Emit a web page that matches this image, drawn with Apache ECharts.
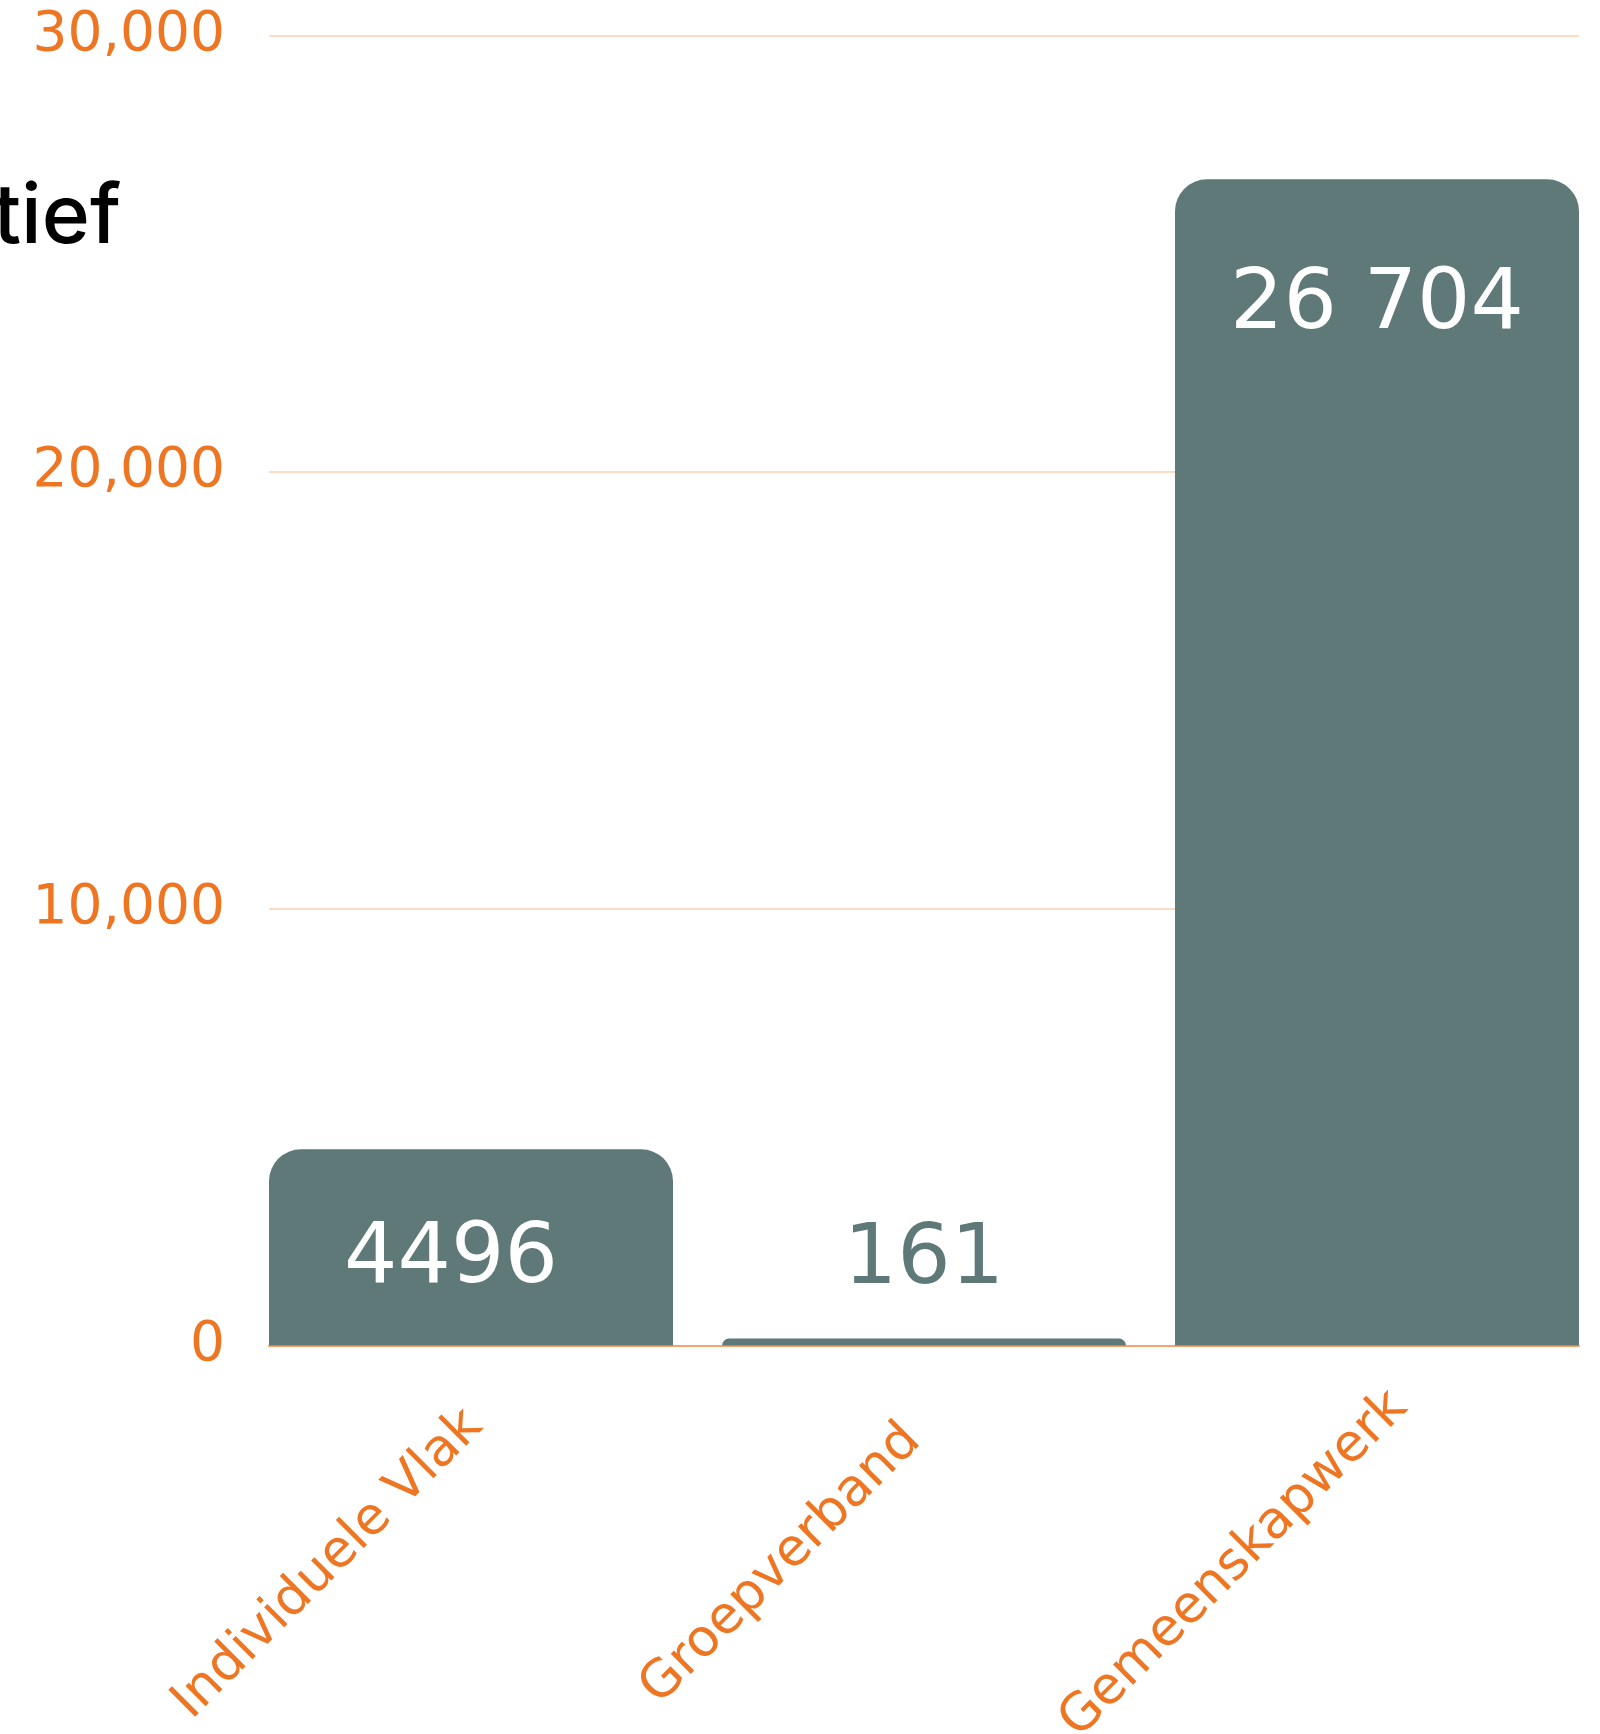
<!DOCTYPE html>
<html>
<head>
<meta charset="utf-8">
<script src="https://cdn.jsdelivr.net/npm/echarts@6/dist/echarts.min.js"></script>
<style>
  html, body { margin: 0; padding: 0; background: #ffffff; }
  #chart { width: 1600px; height: 1734px; }
</style>
</head>
<body>
<div id="chart"></div>
<script>
// ---- data ----
const categories = ['Individuele Vlak', 'Groepverband', 'Gemeenskapwerk'];
const values = [4496, 161, 26704];
const yTicks = [0, 10000, 20000, 30000];
const titleText = 'tief';

// ---- styles ----
const ORANGE = '#ee7623';
const BAR = '#5f7878';
const FONT = '"DejaVu Sans"';
const TITLE_FONT = 'Inter';

function fmtValue(v) {
  if (v >= 10000) {
    return String(v).replace(/\B(?=(\d{3})+(?!\d))/g, ' ');
  }
  return String(v);
}

const yMax = yTicks[yTicks.length - 1];
const yInterval = yTicks[1] - yTicks[0];

const chart = echarts.init(document.getElementById('chart'), null, { renderer: 'canvas' });

const barData = values.map(function (v) {
  const small = v < 1000;
  const tall = v > yMax * 0.5;
  return {
    value: v,
    label: small
      ? { position: 'top', distance: 35, color: BAR }
      : { position: 'insideTop', distance: tall ? 85 : 69, color: '#ffffff', offset: tall ? [0, 0] : [-20, 0] }
  };
});

chart.setOption({
  animation: false,
  backgroundColor: '#ffffff',
  graphic: [{
    type: 'text',
    x: 121,
    y: 218,
    style: {
      text: titleText,
      fill: '#000000',
      font: '500 82px ' + TITLE_FONT,
      textAlign: 'right',
      textVerticalAlign: 'middle'
    }
  }],
  grid: [
    { left: 244.5, width: 1359, top: 35.4, height: 1310.2, containLabel: false, outerBoundsMode: 'none' },
    { left: 269, width: 1310, top: 35.4, height: 1310.2, containLabel: false, outerBoundsMode: 'none' }
  ],
  xAxis: [
    {
      type: 'category',
      gridIndex: 0,
      data: categories,
      axisLine: { show: false },
      axisTick: { show: false },
      axisLabel: {
        interval: 0,
        rotate: 45,
        align: 'center',
        verticalAlign: 'middle',
        margin: 76,
        padding: [0, 404, 0, 0],
        color: ORANGE,
        fontFamily: FONT,
        fontSize: 52
      }
    },
    {
      type: 'category',
      gridIndex: 1,
      data: categories,
      axisLine: { show: true, lineStyle: { color: '#f4a46c', width: 2 } },
      axisTick: { show: false },
      axisLabel: { show: false }
    }
  ],
  yAxis: [
    {
      type: 'value',
      gridIndex: 0,
      min: 0,
      max: yMax,
      interval: yInterval,
      axisLine: { show: false },
      axisTick: { show: false },
      axisLabel: { show: false },
      splitLine: { show: false }
    },
    {
      type: 'value',
      gridIndex: 1,
      min: 0,
      max: yMax,
      interval: yInterval,
      axisLine: { show: false },
      axisTick: { show: false },
      axisLabel: {
        margin: 44,
        color: ORANGE,
        fontFamily: FONT,
        fontSize: 55,
        formatter: function (v) { return v.toLocaleString('en-US'); }
      },
      splitLine: { show: true, lineStyle: { color: '#fcdcc4', width: 2 } }
    }
  ],
  series: [{
    type: 'bar',
    xAxisIndex: 0,
    yAxisIndex: 0,
    data: barData,
    barWidth: 404,
    z: 3,
    itemStyle: { color: BAR, borderRadius: [32, 32, 0, 0] },
    label: {
      show: true,
      fontFamily: FONT,
      fontSize: 84,
      lineHeight: 84,
      formatter: function (p) { return fmtValue(p.value); }
    }
  }]
});
</script>
</body>
</html>
